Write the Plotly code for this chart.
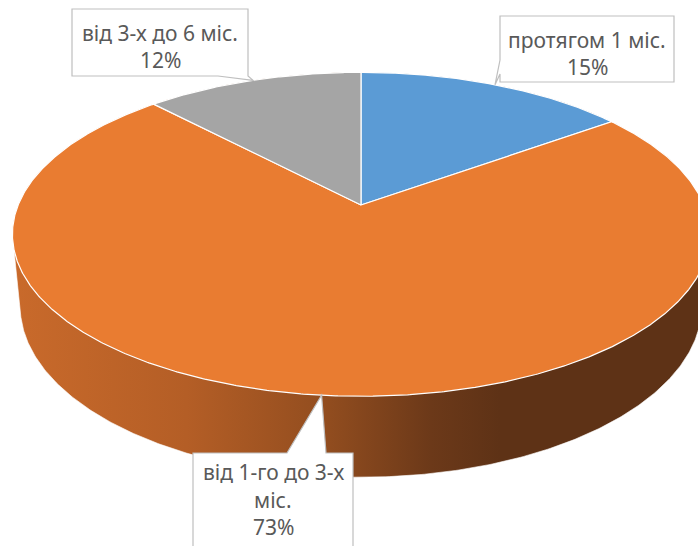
import numpy as np
import plotly.graph_objects as go

# Share of cases by duration
names = ["протягом 1 міс.", "від 1-го до 3-х міс.", "від 3-х до 6 міс."]
values = [15, 73, 12]
label_lines = [["протягом 1 міс."], ["від 1-го до 3-х", "міс."], ["від 3-х до 6 міс."]]
colors = ["#5B9BD5", "#E97C31", "#A5A5A5"]

W, H = 698, 546

# Perspective projection of a tilted disk (unit radius) onto page pixels
CX, CY = 361.0, 205.0
FOCAL = 1685.0
DIST = 4.915
SIN_E, COS_E = 0.457, 0.8895
THICK = 0.237


def project(phi, level=0.0, r=1.0):
    X = r * np.sin(phi)
    Z = r * np.cos(phi)
    d = DIST + Z * COS_E - level * SIN_E
    yp = level * COS_E + Z * SIN_E
    return CX + FOCAL * X / d, CY - FOCAL * yp / d


def hull(pts):
    pts = sorted(set(map(tuple, np.round(pts, 3))))
    def cross(o, a, b):
        return (a[0] - o[0]) * (b[1] - o[1]) - (a[1] - o[1]) * (b[0] - o[0])
    lower, upper = [], []
    for p in pts:
        while len(lower) >= 2 and cross(lower[-2], lower[-1], p) <= 0:
            lower.pop()
        lower.append(p)
    for p in reversed(pts):
        while len(upper) >= 2 and cross(upper[-2], upper[-1], p) <= 0:
            upper.pop()
        upper.append(p)
    return np.array(lower[:-1] + upper[:-1])


fig = go.Figure()

# Side wall of the disk
t = np.linspace(0, 2 * np.pi, 721)
tx, ty = project(t, 0.0)
bx, by = project(t, -THICK)
wall = hull(np.column_stack([np.concatenate([tx, bx]), np.concatenate([ty, by])]))
fig.add_trace(go.Scatter(
    x=np.append(wall[:, 0], wall[0, 0]), y=np.append(wall[:, 1], wall[0, 1]),
    mode="lines", fill="toself", line=dict(color="rgba(255,255,255,0.6)", width=1),
    fillgradient=dict(type="horizontal", colorscale=[
        [0.0, "#C96A2B"], [0.25, "#B45E26"], [0.45, "#924D1F"],
        [0.6, "#6C3919"], [0.7, "#5E3216"], [1.0, "#5E3216"]]),
    hoverinfo="skip", showlegend=False))

# Top face slices, clockwise from 12 o'clock
total = sum(values)
bounds = np.concatenate([[0], np.cumsum(values)]) / total * 2 * np.pi
mids = []
for i, v in enumerate(values):
    a0, a1 = bounds[i], bounds[i + 1]
    arc = np.linspace(a0, a1, max(int((a1 - a0) * 180), 4))
    ax, ay = project(arc, 0.0)
    xs = np.concatenate([[CX], ax, [CX]])
    ys = np.concatenate([[CY], ay, [CY]])
    fig.add_trace(go.Scatter(
        x=xs, y=ys, mode="lines", fill="toself", fillcolor=colors[i],
        line=dict(color="white", width=1.2), name=names[i],
        hoverinfo="name", showlegend=False))
    mids.append(project((a0 + a1) / 2, 0.0))

# Callout labels: box outline plus pointer to the slice rim
boxes = [
    dict(x0=500, x1=674, y0=16, y1=82, side="left", base=(60, 74), cy=[40, 67]),
    dict(x0=193, x1=353, y0=453, y1=600, side="top", base=(287, 326), cy=[472, 500, 527]),
    dict(x0=72, x1=248, y0=9, y1=76, side="bottom", base=(218, 248), cy=[33, 60]),
]
shapes = []
annotations = []
for i, b in enumerate(boxes):
    px, py = mids[i]
    x0, x1, y0, y1 = b["x0"], b["x1"], b["y0"], b["y1"]
    if b["side"] == "left":
        path = (f"M{x0},{y0} H{x1} V{y1} H{x0} V{b['base'][1]} "
                f"L{px:.1f},{py:.1f} L{x0},{b['base'][0]} Z")
    elif b["side"] == "top":
        path = (f"M{x0},{y0} H{b['base'][0]} L{px:.1f},{py:.1f} "
                f"L{b['base'][1]},{y0} H{x1} V{y1} H{x0} Z")
    else:
        path = (f"M{x0},{y0} H{x1} V{y1} L{px:.1f},{py:.1f} "
                f"L{b['base'][0]},{y1} H{x0} Z")
    shapes.append(dict(type="path", path=path, xref="x", yref="y",
                       fillcolor="white", line=dict(color="#BFBFBF", width=1.2),
                       layer="above"))
    pct = f"{round(values[i] / total * 100)}%"
    lines = label_lines[i] + [pct]
    cxm = (x0 + x1) / 2
    for txt, yc in zip(lines, b["cy"]):
        annotations.append(dict(x=cxm, y=yc, xref="x", yref="y", text=txt,
                                showarrow=False, xanchor="center", yanchor="middle",
                                font=dict(family="Noto Sans", size=21, color="#595959")))

fig.update_layout(
    width=W, height=H, autosize=False,
    margin=dict(l=0, r=0, t=0, b=0),
    paper_bgcolor="white", plot_bgcolor="white",
    xaxis=dict(range=[0, W], visible=False, fixedrange=True),
    yaxis=dict(range=[H, 0], visible=False, fixedrange=True),
    shapes=shapes, annotations=annotations,
)

fig.write_html("out.html")
